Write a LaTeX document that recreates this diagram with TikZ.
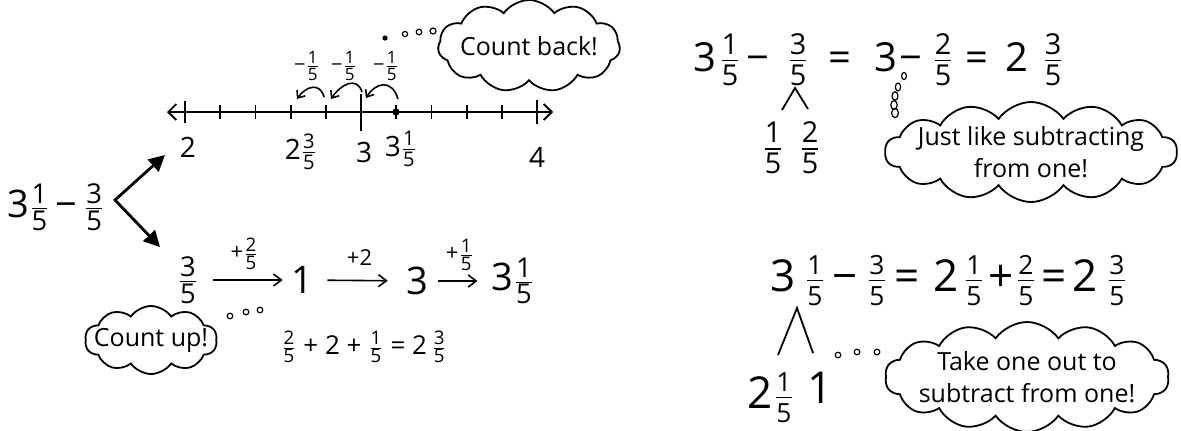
\documentclass[tikz,border=0pt]{standalone}
\usepackage{amsmath}
\usepackage{fontspec}
\setmainfont{Open Sans}
\usetikzlibrary{arrows.meta,shapes.symbols,positioning}
\tikzset{>=Stealth}
\makeatletter
\newcommand{\fr}[3][0.72]{%
  \edef\frsz{\strip@pt\dimexpr#1\dimexpr\f@size pt\relax\relax}%
  \ensuremath{\frac{\text{\fontsize{\frsz}{\frsz}\selectfont#2}}{\text{\fontsize{\frsz}{\frsz}\selectfont#3}}}}
\makeatother
\tikzset{
  nlline/.style={line width=0.9pt,{Straight Barb[length=4pt,width=8pt]}-{Straight Barb[length=4pt,width=8pt]}},
  nltick/.style={line width=0.9pt},
  jump/.style={line width=0.8pt,-{Straight Barb[length=3pt,width=5pt]}},
  flow/.style={line width=0.8pt,-{Straight Barb[length=4pt,width=6pt]}},
  branch/.style={line width=1.4pt,{Triangle[length=8pt,width=8pt]}-{Triangle[length=8pt,width=8pt]}},
  treeline/.style={line width=0.9pt},
  bubble/.style={cloud,draw,line width=0.9pt,cloud puffs=14,cloud puff arc=110,cloud ignores aspect,inner sep=0pt},
  puff/.style={draw,line width=0.6pt},
  bubtext/.style={font=\fontsize{12.5}{16}\selectfont,align=center},
  nlnum/.style={font=\fontsize{14}{16}\selectfont,inner sep=0pt},
  midnum/.style={font=\fontsize{19}{22}\selectfont,inner sep=1pt},
  eqsmall/.style={font=\fontsize{13}{15}\selectfont,inner sep=0pt},
  bignum/.style={font=\fontsize{20}{24}\selectfont,inner sep=0pt,anchor=base},
  hugenum/.style={font=\fontsize{22}{26}\selectfont,inner sep=0pt,anchor=base},
  steplbl/.style={font=\fontsize{11}{13}\selectfont,inner sep=0pt},
  jumplbl/.style={font=\fontsize{10}{12}\selectfont,inner sep=0pt}
}
\begin{document}
\begin{tikzpicture}[x=0.5pt,y=-0.5pt]
  \useasboundingbox (0,0) rectangle (1181,430);
  % number line
  \coordinate (nlA) at (167,112);
  \coordinate (nlB) at (553,112);
  \draw[nlline] (nlA) -- (nlB);
  \foreach \i in {1,2,3,4,6,7,8,9}
    \draw[nltick] (185+35.2*\i,105) -- (185+35.2*\i,119);
  \draw[nltick] (185,101) -- (185,123);
  \draw[nltick] (361,94) -- (361,131);
  \draw[nltick] (537,100) -- (537,124);
  \fill (396,112) circle[radius=1.8pt];
  \node[nlnum] (l2) at (188,147) {2};
  \node[nlnum] (l235) at (301,152) {2\fr35};
  \node[nlnum] (l3) at (364,152) {3};
  \node[nlnum] (l315) at (401,149) {3\fr15};
  \node[nlnum] (l4) at (537,157) {4};
  % counting back
  \coordinate (a3s) at (398,99);  \coordinate (a3e) at (366,98);
  \coordinate (a2s) at (362,92);  \coordinate (a2e) at (331,99);
  \coordinate (a1s) at (324,97);  \coordinate (a1e) at (297,99);
  \draw[jump] (a3s) .. controls +(-6,-20) and +(10,-16) .. (a3e);
  \draw[jump] (a2s) .. controls +(-5,-16) and +(10,-15) .. (a2e);
  \draw[jump] (a1s) .. controls +(-4,-15) and +(9,-13) .. (a1e);
  \node[jumplbl] (m1) at (307,66) {−\fr[0.85]15};
  \node[jumplbl] (m2) at (344,66) {−\fr[0.85]15};
  \node[jumplbl] (m3) at (386,66) {−\fr[0.85]15};
  \fill (385,38) circle[radius=1.3pt];
  \draw[puff] (405,34) circle[radius=1.3pt];
  \draw[puff] (419,32) circle[radius=1.4pt];
  \draw[puff] (433,31) circle[radius=1.5pt];
  \node[bubble,cloud puffs=11,minimum width=91pt,minimum height=46pt,
    label={[bubtext]center:Count back!}] (backcloud) at (529,46) {};
  % the problem and the two ways
  \node[midnum] (start) at (56,207) {3\fr15\,−\,\fr35};
  \coordinate (vtx) at (115,200);
  \coordinate (toline) at (165,155);
  \coordinate (toflow) at (160,247);
  \draw[branch] (toline) -- (vtx) -- (toflow);
  % counting up
  \node[midnum] (f0) at (188,280) {\fr35};
  \node[midnum] (f1) at (302,280) {1};
  \node[midnum] (f2) at (417,281) {3};
  \node[midnum] (f3) at (513,281) {3\fr15};
  \draw[flow,shorten <=6pt,shorten >=3pt] (f0) -- node[steplbl,above=5pt] (s1) {+\fr[0.85]25} (f1);
  \draw[flow,shorten <=6pt,shorten >=8pt] (f1) -- node[steplbl,above=7pt] (s2) {+2} (f2);
  \draw[flow,shorten <=4pt,shorten >=6pt] (f2) -- node[steplbl,above=5pt] (s3) {+\fr[0.85]15} (f3);
  \node[bubble,cloud puffs=10,minimum width=66pt,minimum height=34pt,
    label={[bubtext]center:Count up!}] (upcloud) at (151,340) {};
  \draw[puff] (230,316) circle[radius=1.4pt];
  \draw[puff] (246,312) circle[radius=1.4pt];
  \draw[puff] (260,310) circle[radius=1.4pt];
  \node[eqsmall] (sum) at (364,347) {\fr25 + 2 + \fr15 = 2\,\fr35};
  % subtracting from one
  \node[bignum] (r1) at (705,71) {3};
  \node[bignum] (r2) at (730,71) {\fr15};
  \node[bignum] (r3) at (758,71) {−};
  \node[bignum] (r4) at (798,71) {\fr35};
  \node[bignum] (r5) at (840,71) {=};
  \node[bignum] (r6) at (886,71) {3};
  \node[bignum] (r7) at (911,71) {−};
  \node[bignum] (r8) at (943,71) {\fr25};
  \node[bignum] (r9) at (977,71) {=};
  \node[bignum] (r10) at (1017,71) {2};
  \node[bignum] (r11) at (1053,71) {\fr35};
  \coordinate (ttop) at (795,88);
  \coordinate (tl) at (782,110);
  \coordinate (tr) at (808,109);
  \draw[treeline] (tl) -- (ttop) -- (tr);
  \node[bignum,anchor=center] (tf1) at (773,148) {\fr15};
  \node[bignum,anchor=center] (tf2) at (810,148) {\fr25};
  \draw[puff] (904,76) ellipse[x radius=1.2pt,y radius=1.8pt];
  \draw[puff] (898,87) ellipse[x radius=1.3pt,y radius=2pt];
  \draw[puff] (895,96) ellipse[x radius=1.5pt,y radius=2.1pt];
  \draw[puff] (894,105) ellipse[x radius=1.6pt,y radius=2.2pt];
  \draw[puff] (895,113) ellipse[x radius=1.7pt,y radius=2.3pt];
  \node[bubble,minimum width=146pt,minimum height=50pt,
    label={[bubtext]center:{Just like subtracting\\from one!}}] (justcloud) at (1031,152) {};
  % taking one out
  \node[hugenum] (b1) at (783,291) {3};
  \node[hugenum] (b2) at (815,291) {\fr[0.6]15};
  \node[hugenum] (b3) at (845,291) {−};
  \node[hugenum] (b4) at (877,291) {\fr[0.6]35};
  \node[hugenum] (b5) at (907,291) {=};
  \node[hugenum] (b6) at (946,291) {2};
  \node[hugenum] (b7) at (974,291) {\fr[0.6]15};
  \node[hugenum] (b8) at (1001,291) {+};
  \node[hugenum] (b9) at (1026,291) {\fr[0.6]25};
  \node[hugenum] (b10) at (1054,291) {=};
  \node[hugenum] (b11) at (1085,291) {2};
  \node[hugenum] (b12) at (1117,291) {\fr[0.6]35};
  \coordinate (stop) at (797,308);
  \coordinate (sl) at (778,355);
  \coordinate (sr) at (813,353);
  \draw[treeline] (sl) -- (stop) -- (sr);
  \node[hugenum] (c1) at (760,408) {2};
  \node[hugenum] (c2) at (784,408) {\fr[0.6]15};
  \node[hugenum] (c3) at (820,403) {1};
  \draw[puff] (838,355) circle[radius=1.4pt];
  \draw[puff] (857,352) circle[radius=1.4pt];
  \draw[puff] (877,352) circle[radius=1.4pt];
  \node[bubble,minimum width=142pt,minimum height=55pt,
    label={[bubtext]center:{Take one out to\\subtract from one!}}] (takecloud) at (1027,377) {};
\end{tikzpicture}
\end{document}
